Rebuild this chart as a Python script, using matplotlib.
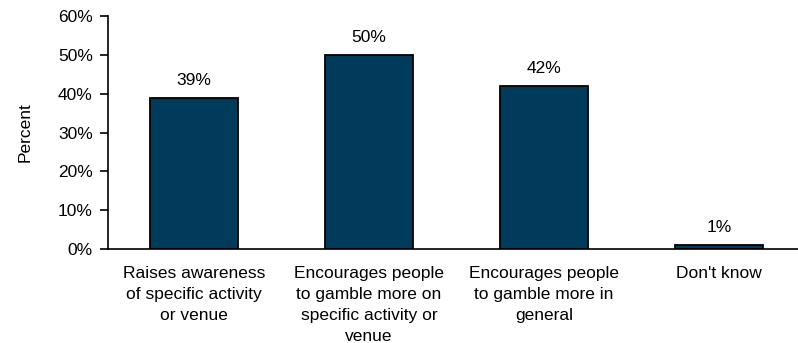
import numpy as np
import matplotlib.pyplot as plt

# survey responses
categories = ["Raises awareness\nof specific activity\nor venue",
              "Encourages people\nto gamble more on\nspecific activity or\nvenue",
              "Encourages people\nto gamble more in\ngeneral",
              "Don't know"]
values = [39, 50, 42, 1]
yticks = [0, 10, 20, 30, 40, 50, 60]

plt.rcParams['font.family'] = ['Liberation Sans', 'DejaVu Sans']
fs = 12.5

fig = plt.figure(figsize=(7.98, 3.43), dpi=100)
ax = fig.add_axes([0.1353, 0.274, 0.8647, 0.679])

x = np.arange(len(categories))
ax.bar(x, values, width=0.5, color="#003b5c", edgecolor="black", linewidth=1.3)

for xi, v in zip(x, values):
    ax.annotate(f"{v}%", (xi, v), xytext=(0, 7), textcoords="offset points",
                ha="center", va="bottom", fontsize=fs)

ax.set_xlim(-0.49, 3.45)
ax.set_ylim(0, 60)
ax.set_yticks(yticks)
ax.set_yticklabels([f"{t}%" for t in yticks], fontsize=fs)
ax.set_xticks(x)
ax.set_xticklabels(categories, fontsize=fs, linespacing=1.5, va="top")
ax.tick_params(axis="x", length=0, pad=12.5)
ax.tick_params(axis="y", length=6, width=1.2, pad=5)
ax.set_ylabel("Percent", fontsize=fs, labelpad=18)

for s in ["top", "right"]:
    ax.spines[s].set_visible(False)
ax.spines["left"].set_linewidth(1.2)
ax.spines["bottom"].set_linewidth(1.2)

plt.savefig("out.png", dpi=100)
